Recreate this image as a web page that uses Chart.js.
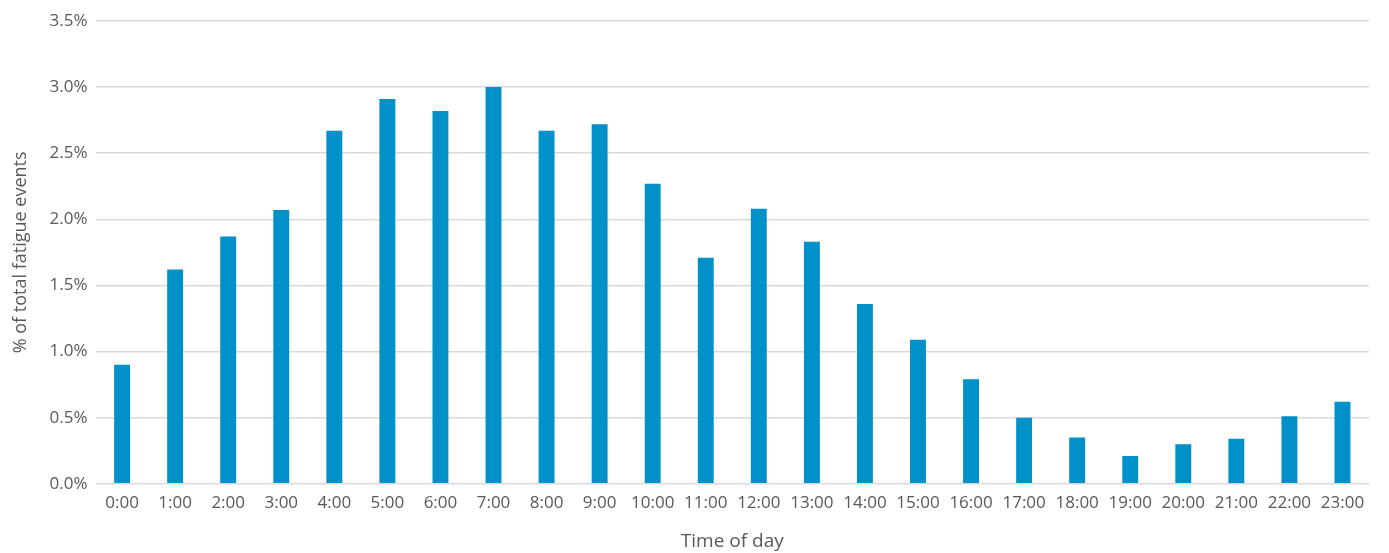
<!DOCTYPE html>
<html>
<head>
<meta charset="utf-8">
<script src="https://cdn.jsdelivr.net/npm/chart.js@4/dist/chart.umd.min.js"></script>
<style>
html,body{margin:0;padding:0;background:#fff;}
#wrap{position:relative;width:1389px;height:553px;}
</style>
</head>
<body>
<div id="wrap"><canvas id="c"></canvas></div>
<script>
const categories = ["0:00","1:00","2:00","3:00","4:00","5:00","6:00","7:00","8:00","9:00","10:00","11:00","12:00","13:00","14:00","15:00","16:00","17:00","18:00","19:00","20:00","21:00","22:00","23:00"];
const values = [0.90,1.62,1.87,2.07,2.67,2.91,2.82,3.00,2.67,2.72,2.27,1.71,2.08,1.83,1.36,1.09,0.79,0.50,0.35,0.21,0.30,0.34,0.51,0.62];
const yTicks = [0,0.5,1.0,1.5,2.0,2.5,3.0,3.5];
const yTitle = "% of total fatigue events";
const xTitle = "Time of day";

Chart.defaults.font.family = "'Open Sans', sans-serif";
Chart.defaults.color = "#595959";

new Chart(document.getElementById('c'), {
  type: 'bar',
  data: {
    labels: categories,
    datasets: [{
      data: values,
      backgroundColor: '#0091c9',
      barPercentage: 0.3,
      categoryPercentage: 1.0
    }]
  },
  options: {
    responsive: true,
    maintainAspectRatio: false,
    animation: false,
    layout: { padding: { left: 6, right: 20, top: 21, bottom: 0 } },
    plugins: { legend: { display: false }, tooltip: { enabled: false } },
    scales: {
      x: {
        grid: { display: false, drawTicks: false },
        border: { display: false },
        ticks: { font: { size: 17 }, padding: 9, maxRotation: 0, autoSkip: false },
        title: { display: true, text: xTitle, font: { size: 19 }, padding: { top: 8, bottom: 0 } }
      },
      y: {
        min: 0, max: 3.5,
        afterBuildTicks: (axis) => { axis.ticks = yTicks.map(v => ({ value: v })); },
        grid: { color: '#d9d9d9', lineWidth: 1.5, drawTicks: false },
        border: { display: false },
        ticks: { font: { size: 17 }, padding: 8, callback: v => v.toFixed(1) + '%' },
        title: { display: true, text: yTitle, font: { size: 18 }, padding: { bottom: 10 } }
      }
    }
  }
});
</script>
</body>
</html>
